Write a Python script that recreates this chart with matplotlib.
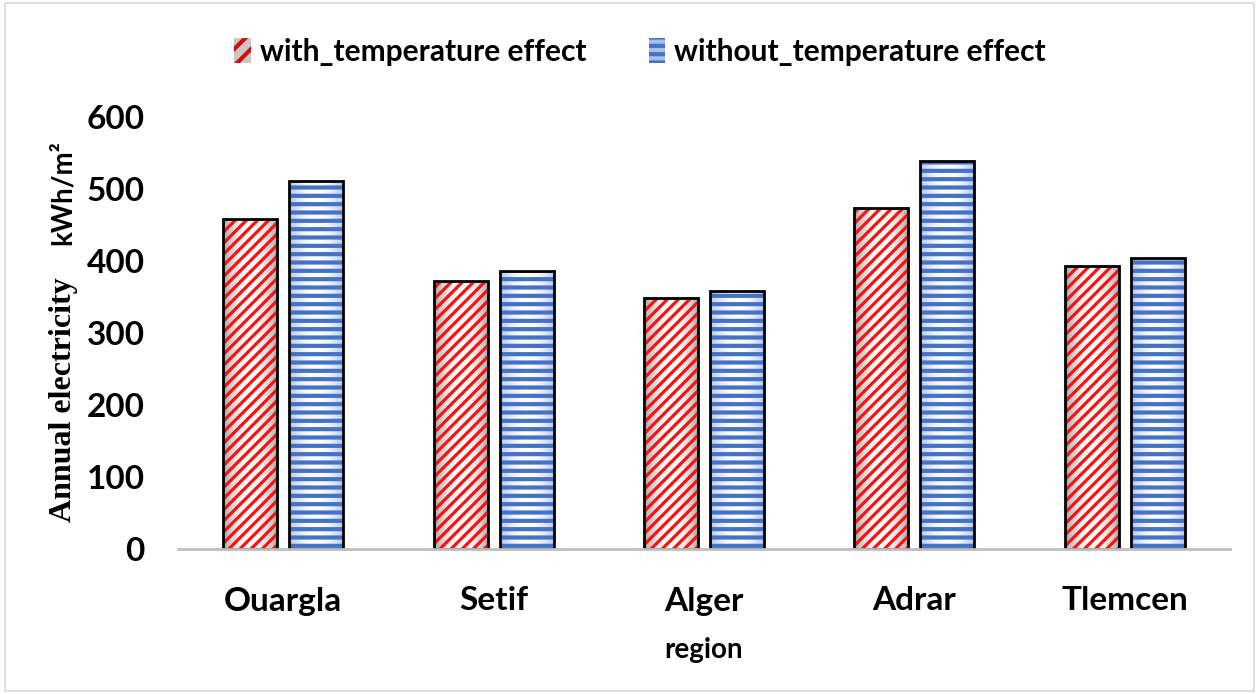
import numpy as np
import matplotlib.pyplot as plt
from matplotlib.patches import Rectangle
from matplotlib.colors import LinearSegmentedColormap

regions = ["Ouargla", "Setif", "Alger", "Adrar", "Tlemcen"]
with_temp = [458, 372, 349, 474, 393]
without_temp = [511, 386, 358, 539, 404]

fig = plt.figure(figsize=(12.59, 6.94), dpi=100)
ax = fig.add_axes([178 / 1259, 1 - 549 / 694, 1052 / 1259, 432 / 694])

x = np.arange(len(regions))
w = 0.257
off = 0.157

ax.set_xlim(-0.5, len(regions) - 0.5)
ax.set_ylim(0, 600)

# soft gradient fill inside each bar (white centre, tinted edges)
grad = np.abs(np.linspace(-1, 1, 64)) ** 2
grad = grad.reshape(1, -1)
cm_red = LinearSegmentedColormap.from_list("g1", ["white", "#a6a6a6"])
cm_blue = LinearSegmentedColormap.from_list("g2", ["white", "#b4c4ee"])
for xi, v in zip(x, with_temp):
    ax.imshow(grad, cmap=cm_red, extent=(xi - off - w / 2, xi - off + w / 2, 0, v),
              aspect="auto", zorder=1, vmin=0, vmax=1)
for xi, v in zip(x, without_temp):
    ax.imshow(grad, cmap=cm_blue, extent=(xi + off - w / 2, xi + off + w / 2, 0, v),
              aspect="auto", zorder=1, vmin=0, vmax=1)

plt.rcParams["hatch.linewidth"] = 2.3
ax.bar(x - off, with_temp, w, fill=False, edgecolor="#ff1010",
       hatch="///", linewidth=0, zorder=2)
plt.rcParams["hatch.linewidth"] = 3.0
ax.bar(x + off, without_temp, w, fill=False, edgecolor="#4472c4",
       hatch="--", linewidth=0, zorder=2)
ax.bar(x - off, with_temp, w, fill=False, edgecolor="black", linewidth=2, zorder=3)
ax.bar(x + off, without_temp, w, fill=False, edgecolor="black", linewidth=2, zorder=3)

ax.set_xlim(-0.5, len(regions) - 0.5)
ax.set_ylim(0, 600)
ax.set_yticks(range(0, 601, 100))
ax.set_xticks(x)
ax.set_xticklabels(regions, fontsize=24, fontweight="bold", family="Lato")
for t in ax.get_yticklabels():
    t.set_fontsize(24)
    t.set_fontweight("bold")
    t.set_family("Lato")
ax.tick_params(length=0)
ax.tick_params(axis="y", pad=24)
ax.tick_params(axis="x", pad=27)

for s in ["top", "right", "left"]:
    ax.spines[s].set_visible(False)
ax.spines["bottom"].set_color("#bfbfbf")
ax.spines["bottom"].set_linewidth(2)
ax.spines["bottom"].set_zorder(4)

fig.text(703 / 1259, 1 - 650 / 694, "region", ha="center", va="center",
         fontsize=20, fontweight="bold", family="Lato")
fig.text(63 / 1259, 1 - 400 / 694, "Annual electricity", rotation=90,
         ha="center", va="center", fontsize=23, fontweight="bold",
         family="Liberation Serif")
fig.text(63 / 1259, 1 - 193 / 694, "kWh/m²", rotation=90,
         ha="center", va="center", fontsize=20, fontweight="bold", family="Lato")

# legend
plt.rcParams["hatch.linewidth"] = 2.4
h1 = Rectangle((0, 0), 1, 1, facecolor="#c8c8c8", edgecolor="#d01010", hatch="//", linewidth=0)
plt.rcParams["hatch.linewidth"] = 3.0
h2 = Rectangle((0, 0), 1, 1, facecolor="#a8c0e8", edgecolor="#4472c4", hatch="--", linewidth=0)
fig.legend([h1, h2], ["with_temperature effect", "without_temperature effect"],
           loc="center", bbox_to_anchor=(640 / 1259, 1 - 52 / 694), ncol=2,
           frameon=False, prop={"family": "Lato", "weight": "bold", "size": 21.5},
           handlelength=0.55, handleheight=0.9, handletextpad=0.3, columnspacing=2.1)

fig.patches.append(Rectangle((0.004, 0.004), 0.992, 0.992, transform=fig.transFigure,
                             fill=False, edgecolor="#d9d9d9", linewidth=1.2))

fig.savefig("out.png", dpi=100)
